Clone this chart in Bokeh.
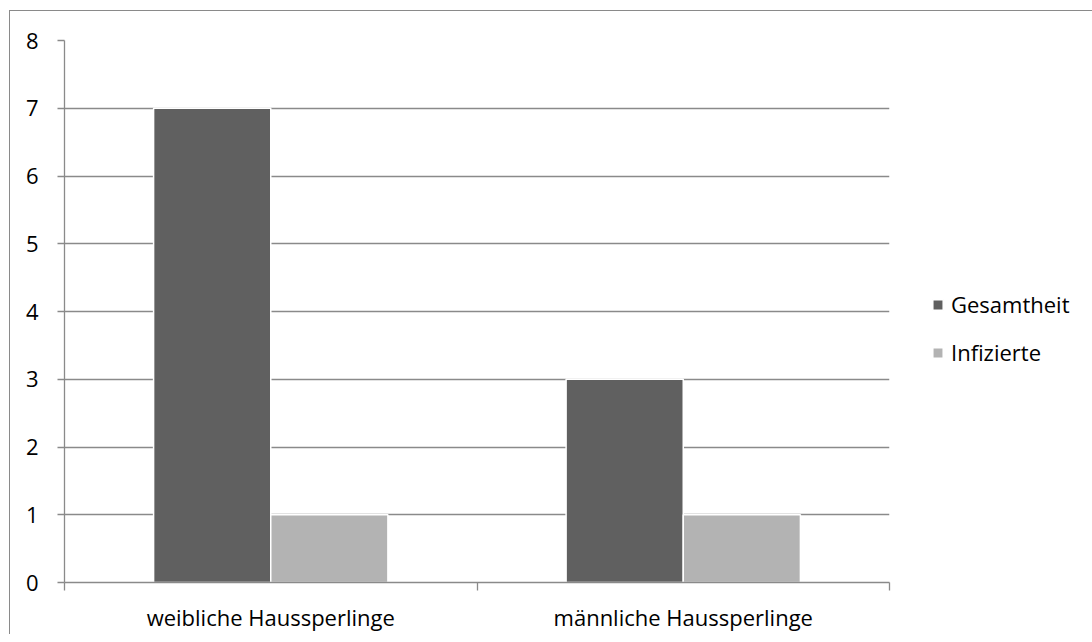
from bokeh.plotting import figure
from bokeh.models import (Range1d, LinearAxis, FixedTicker,
                          Legend, LegendItem, ColumnDataSource, SingleIntervalTicker)
from bokeh.transform import dodge
from bokeh.embed import file_html
from bokeh.resources import INLINE

categories = ["weibliche Haussperlinge", "männliche Haussperlinge"]
gesamtheit = [7, 3]
infizierte = [1, 1]
series_names = ["Gesamtheit", "Infizierte"]
colors = ["#606060", "#b3b3b3"]

FONT = "Open Sans"
FS = "22px"
GRID = "#8a8a8a"

n = len(categories)
centers = [i + 0.5 for i in range(n)]
src = ColumnDataSource(dict(x=centers, cat=categories, g=gesamtheit, i=infizierte))

p = figure(frame_width=825, frame_height=542, output_backend="svg", toolbar_location=None,
           x_range=Range1d(0, n), y_range=Range1d(0, 8),
           x_axis_location=None, y_axis_location=None,
           min_border_left=54, min_border_top=29, min_border_bottom=10, min_border_right=180)
p.styles = {"margin-left": "9px", "margin-top": "10px",
            "border-top": "1px solid #8a8a8a", "border-left": "1px solid #8a8a8a"}
p.outline_line_color = None
p.background_fill_color = "white"
p.border_fill_color = "white"

# y axis
yax = LinearAxis(ticker=SingleIntervalTicker(interval=1, num_minor_ticks=0))
yax.axis_line_color = GRID
yax.axis_line_width = 1.3
yax.major_tick_line_color = GRID
yax.major_tick_line_width = 1.3
yax.major_tick_out = 7
yax.major_tick_in = 0
yax.minor_tick_line_color = None
yax.major_label_text_font = FONT
yax.major_label_text_font_size = FS
yax.major_label_text_color = "#000000"
yax.major_label_standoff = 19
p.add_layout(yax, "left")

p.ygrid.ticker = yax.ticker
p.ygrid.grid_line_color = GRID
p.ygrid.grid_line_width = 1.3
p.xgrid.grid_line_color = None

# x axis: labels at category centres, tick marks at category boundaries
xax = LinearAxis(ticker=FixedTicker(ticks=centers, minor_ticks=list(range(n + 1))),
                 major_label_overrides={c: lab for c, lab in zip(centers, categories)})
xax.axis_line_color = GRID
xax.axis_line_width = 1.3
xax.major_tick_line_color = None
xax.minor_tick_line_color = GRID
xax.minor_tick_line_width = 1.3
xax.minor_tick_out = 8
xax.minor_tick_in = 0
xax.major_label_text_font = FONT
xax.major_label_text_font_size = FS
xax.major_label_text_color = "#000000"
xax.major_label_standoff = 11
p.add_layout(xax, "below")

w = 0.284
r1 = p.vbar(x=dodge("x", -w / 2), top="g", width=w, source=src,
            fill_color=colors[0], line_color="white", line_width=1.5)
r2 = p.vbar(x=dodge("x", w / 2), top="i", width=w, source=src,
            fill_color=colors[1], line_color="white", line_width=1.5)

legend = Legend(items=[LegendItem(label=series_names[0], renderers=[r1]),
                       LegendItem(label=series_names[1], renderers=[r2])],
                location=(42, 215), orientation="vertical")
legend.border_line_color = None
legend.background_fill_alpha = 0
legend.label_text_font = FONT
legend.label_text_font_size = FS
legend.label_text_color = "#000000"
legend.glyph_width = 13
legend.glyph_height = 13
legend.label_height = 24
legend.spacing = 18
legend.label_standoff = 7
legend.padding = 0
legend.margin = 0
p.add_layout(legend, "right")

open("out.html", "w").write(file_html(p, INLINE))
